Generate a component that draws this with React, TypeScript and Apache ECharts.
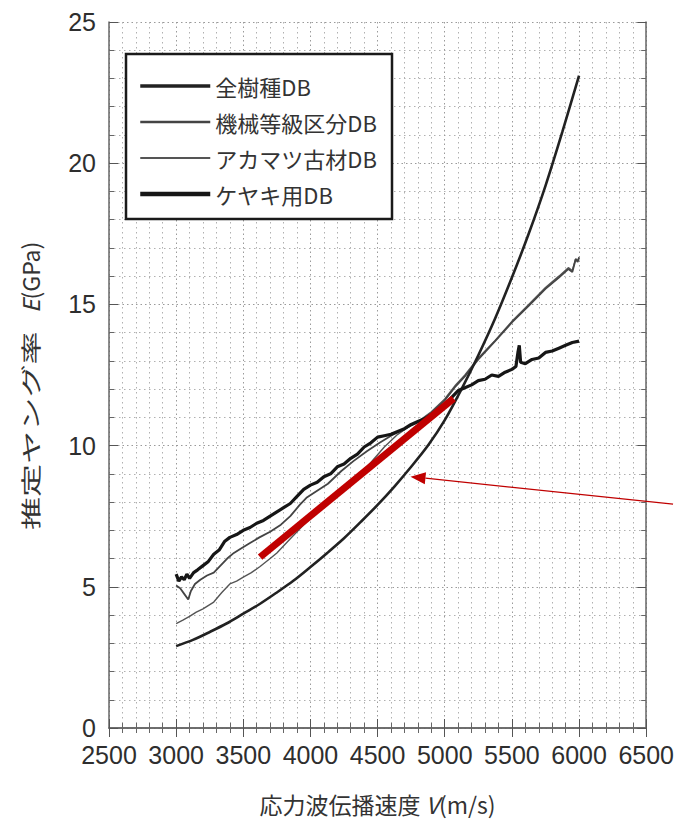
import React, { useEffect, useRef } from 'react';
import * as echarts from 'echarts';

// ---- axis setup ----
const xMin = 2500;
const xMax = 6500;
const xStep = 500;
const yMin = 0;
const yMax = 25;
const yStep = 5;

const legendNames = ['全樹種DB', '機械等級区分DB', 'アカマツ古材DB', 'ケヤキ用DB'];

// ---- 全樹種DB ----
const allSpeciesV = [3000, 3125, 3250, 3375, 3500, 3625, 3750, 3875, 4000, 4125, 4250, 4375, 4500, 4625, 4750, 4875, 5000, 5125, 5250, 5375, 5500, 5625, 5750, 5875, 6000];
const allSpeciesE = [2.9, 3.12, 3.4, 3.7, 4.05, 4.4, 4.8, 5.22, 5.7, 6.2, 6.72, 7.3, 7.9, 8.55, 9.25, 10.0, 10.9, 12.0, 13.2, 14.5, 15.95, 17.5, 19.2, 21.1, 23.1];

// ---- 機械等級区分DB ----
const machineV = [3000, 3030, 3060, 3090, 3110, 3140, 3180, 3230, 3280, 3330, 3380, 3430, 3480, 3550, 3620, 3700, 3780, 3850, 3920, 3970, 4050, 4130, 4230, 4320, 4420, 4515, 4600, 4700, 4809, 4900, 5000, 5081, 5150, 5250, 5375, 5500, 5625, 5750, 5850, 5920, 5950, 5975, 5990, 6000];
const machineE = [5.05, 4.95, 4.75, 4.55, 4.85, 5.1, 5.25, 5.4, 5.5, 5.75, 6.0, 6.2, 6.35, 6.55, 6.75, 6.95, 7.2, 7.5, 7.9, 8.15, 8.4, 8.65, 9.1, 9.45, 9.8, 10.1, 10.35, 10.6, 10.85, 11.15, 11.6, 12.1, 12.45, 13.05, 13.7, 14.36, 14.95, 15.55, 15.95, 16.25, 16.15, 16.6, 16.5, 16.65];

// ---- アカマツ古材DB ----
const akamatsuV = [3000, 3050, 3100, 3150, 3200, 3280, 3340, 3400, 3450, 3500, 3560, 3625, 3700, 3750, 3850, 3950, 4050, 4150, 4250, 4350, 4450, 4550, 4650, 4750, 4809, 4900, 5000, 5081, 5150, 5250, 5375, 5500, 5625, 5750, 5850, 5920, 5950, 5975, 5990, 6000];
const akamatsuE = [3.7, 3.82, 3.95, 4.1, 4.22, 4.46, 4.8, 5.1, 5.2, 5.34, 5.5, 5.72, 6.0, 6.2, 6.7, 7.2, 7.65, 8.05, 8.45, 8.9, 9.4, 9.95, 10.4, 10.72, 10.88, 11.2, 11.65, 12.15, 12.5, 13.1, 13.72, 14.4, 15.0, 15.6, 16.0, 16.3, 16.2, 16.62, 16.55, 16.68];

// ---- ケヤキ用DB ----
const keyakiV = [3000, 3020, 3040, 3060, 3080, 3100, 3130, 3160, 3200, 3240, 3280, 3320, 3360, 3400, 3450, 3500, 3550, 3600, 3650, 3700, 3750, 3800, 3850, 3900, 3950, 4000, 4050, 4100, 4150, 4200, 4250, 4300, 4350, 4400, 4450, 4500, 4550, 4600, 4650, 4700, 4750, 4800, 4850, 4900, 4950, 5000, 5050, 5100, 5150, 5200, 5250, 5300, 5350, 5400, 5450, 5500, 5530, 5545, 5555, 5565, 5600, 5650, 5700, 5750, 5800, 5850, 5900, 5950, 6000];
const keyakiE = [5.45, 5.2, 5.35, 5.25, 5.45, 5.3, 5.5, 5.6, 5.75, 5.9, 6.15, 6.3, 6.6, 6.75, 6.85, 7.0, 7.1, 7.25, 7.35, 7.5, 7.65, 7.8, 7.95, 8.2, 8.45, 8.6, 8.7, 8.9, 9.0, 9.25, 9.35, 9.55, 9.7, 9.95, 10.1, 10.3, 10.35, 10.4, 10.5, 10.6, 10.75, 10.85, 10.95, 11.1, 11.25, 11.45, 11.7, 11.95, 12.05, 12.15, 12.3, 12.35, 12.5, 12.45, 12.6, 12.7, 12.8, 13.3, 13.55, 12.95, 12.9, 13.05, 13.1, 13.3, 13.35, 13.45, 13.55, 13.65, 13.7];

// ---- red annotation (thick line and arrow) ----
const redLineV = [3625, 5066];
const redLineE = [6.05, 11.67];
// arrow: tail (beyond the right edge) -> tip
const arrowV = [6700, 4745];
const arrowE = [7.93, 8.9];

const zip = (xs: number[], ys: number[]) => xs.map((x, i) => [x, ys[i]]);

const tickFont = "'Liberation Sans Narrow', 'Liberation Sans', Arial, sans-serif";
const cjkFont = "'Noto Sans CJK JP', 'Noto Sans', sans-serif";

const gridMajor = { color: '#9a9a9a', type: [1.5, 3], width: 1 };
const gridMinor = { color: '#b0b0b0', type: [1.5, 3.5], width: 1 };
const frameLine = { color: '#666', width: 1.5 };
const hiddenSymbol = { color: 'rgba(0,0,0,0)', borderWidth: 0, opacity: 0 };
const red = '#c00000';

function renderArrow(_params: any, api: any) {
  const p0 = api.coord([api.value(0), api.value(1)]);
  const p1 = api.coord([api.value(2), api.value(3)]);
  const dx = p1[0] - p0[0];
  const dy = p1[1] - p0[1];
  const len = Math.sqrt(dx * dx + dy * dy) || 1;
  const ux = dx / len;
  const uy = dy / len;
  const headLen = 15;
  const headHalf = 6;
  const bx = p1[0] - ux * headLen;
  const by = p1[1] - uy * headLen;
  return {
    type: 'group',
    children: [
      {
        type: 'line',
        shape: { x1: p0[0], y1: p0[1], x2: bx, y2: by },
        style: { stroke: red, lineWidth: 1.3 },
      },
      {
        type: 'polygon',
        shape: {
          points: [
            [p1[0], p1[1]],
            [bx - uy * headHalf, by + ux * headHalf],
            [bx + uy * headHalf, by - ux * headHalf],
          ],
        },
        style: { fill: red },
      },
    ],
  };
}

function buildOption(): any {
  return {
    animation: false,
    backgroundColor: '#ffffff',
    grid: { left: 109, right: 24, top: 22, bottom: 100 },
    xAxis: [
      {
        type: 'value',
        min: xMin,
        max: xMax,
        interval: xStep,
        position: 'bottom',
        name: '{a|応力波伝播速度 }{i|V}{a|(m/s)}',
        nameLocation: 'middle',
        nameGap: 64,
        nameTextStyle: {
          rich: {
            a: { fontFamily: cjkFont, fontSize: 23, color: '#333' },
            i: { fontFamily: cjkFont, fontSize: 23, color: '#333', fontStyle: 'italic' },
          },
        },
        axisLine: { show: true, lineStyle: frameLine },
        axisTick: { show: true, inside: true, length: 9, lineStyle: { color: '#555' } },
        minorTick: { show: true, splitNumber: 5, length: 5, lineStyle: { color: '#666' } },
        axisLabel: {
          fontFamily: tickFont,
          fontSize: 25,
          color: '#2e2e2e',
          margin: 14,
          formatter: (v: number) => String(v),
        },
        splitLine: { show: true, lineStyle: gridMajor },
        minorSplitLine: { show: true, lineStyle: gridMinor },
      },
      {
        type: 'value',
        min: xMin,
        max: xMax,
        interval: xStep,
        position: 'top',
        axisLine: { show: true, lineStyle: frameLine },
        axisTick: { show: true, inside: true, length: 9, lineStyle: { color: '#555' } },
        minorTick: { show: true, splitNumber: 5, length: 5, lineStyle: { color: '#666' } },
        axisLabel: { show: false },
        splitLine: { show: false },
      },
    ],
    yAxis: [
      {
        type: 'value',
        min: yMin,
        max: yMax,
        interval: yStep,
        position: 'left',
        axisLine: { show: true, lineStyle: frameLine },
        axisTick: { show: true, inside: true, length: 9, lineStyle: { color: '#555' } },
        minorTick: { show: true, splitNumber: 5, length: 5, lineStyle: { color: '#666' } },
        axisLabel: { fontFamily: tickFont, fontSize: 25, color: '#2e2e2e', margin: 13 },
        splitLine: { show: true, lineStyle: gridMajor },
        minorSplitLine: { show: true, lineStyle: gridMinor },
      },
      {
        type: 'value',
        min: yMin,
        max: yMax,
        interval: yStep,
        position: 'right',
        axisLine: { show: true, lineStyle: frameLine },
        axisTick: { show: true, inside: true, length: 9, lineStyle: { color: '#555' } },
        minorTick: { show: true, splitNumber: 5, length: 5, lineStyle: { color: '#666' } },
        axisLabel: { show: false },
        splitLine: { show: false },
      },
    ],
    legend: {
      data: [
        { name: legendNames[0], lineStyle: { width: 3.5 }, itemStyle: hiddenSymbol },
        { name: legendNames[1], lineStyle: { width: 2.5 }, itemStyle: hiddenSymbol },
        { name: legendNames[2], lineStyle: { width: 1.8 }, itemStyle: hiddenSymbol },
        { name: legendNames[3], lineStyle: { width: 4.5 }, itemStyle: hiddenSymbol },
      ],
      orient: 'vertical',
      left: 138,
      top: 75,
      padding: 0,
      itemWidth: 70,
      itemHeight: 22,
      itemGap: 14,
      z: 6,
      selectedMode: false,
      itemStyle: hiddenSymbol,
      textStyle: { fontFamily: cjkFont, fontSize: 22, color: '#333', lineHeight: 22 },
    },
    graphic: [
      {
        type: 'rect',
        z: 5,
        shape: { x: 126, y: 54, width: 266, height: 165 },
        style: { fill: '#ffffff', stroke: '#1a1a1a', lineWidth: 2.5 },
      },
      {
        type: 'group',
        x: 30,
        y: 384,
        rotation: Math.PI / 2,
        children: [
          {
            type: 'text',
            x: -146,
            y: 0,
            scaleX: 1.38,
            scaleY: 0.85,
            style: {
              text: '推定ヤング率',
              fontFamily: cjkFont,
              fontSize: 24,
              fill: '#333',
              align: 'left',
              verticalAlign: 'middle',
            },
          },
          {
            type: 'text',
            x: 71,
            y: 0,
            style: {
              text: '{i|E}{n|(GPa)}',
              align: 'left',
              verticalAlign: 'middle',
              rich: {
                i: { fontFamily: cjkFont, fontSize: 23, fill: '#333', fontStyle: 'italic' },
                n: { fontFamily: cjkFont, fontSize: 23, fill: '#333' },
              },
            },
          },
        ],
      },
    ],
    series: [
      {
        name: legendNames[2],
        type: 'line',
        data: zip(akamatsuV, akamatsuE),
        symbol: 'none',
        lineStyle: { color: '#555', width: 1.4 },
        itemStyle: { color: '#555' },
        z: 2,
      },
      {
        name: legendNames[1],
        type: 'line',
        data: zip(machineV, machineE),
        symbol: 'none',
        lineStyle: { color: '#444', width: 1.8 },
        itemStyle: { color: '#444' },
        z: 2,
      },
      {
        name: legendNames[0],
        type: 'line',
        data: zip(allSpeciesV, allSpeciesE),
        symbol: 'none',
        smooth: 0.3,
        lineStyle: { color: '#222', width: 2.6 },
        itemStyle: { color: '#222' },
        z: 3,
      },
      {
        name: legendNames[3],
        type: 'line',
        data: zip(keyakiV, keyakiE),
        symbol: 'none',
        lineStyle: { color: '#161616', width: 3.2 },
        itemStyle: { color: '#161616' },
        z: 3,
      },
      {
        name: 'redLine',
        type: 'line',
        data: zip(redLineV, redLineE),
        symbol: 'none',
        lineStyle: { color: red, width: 7, cap: 'butt' },
        itemStyle: { color: red },
        z: 8,
        silent: true,
      },
      {
        name: 'arrow',
        type: 'custom',
        clip: false,
        silent: true,
        z: 8,
        encode: { x: [0, 2], y: [1, 3] },
        data: [[arrowV[0], arrowE[0], arrowV[1], arrowE[1]]],
        renderItem: renderArrow,
      },
    ],
  };
}

export default function App() {
  const ref = useRef<HTMLDivElement>(null);
  useEffect(() => {
    document.body.style.margin = '0';
    const chart = echarts.init(ref.current as HTMLDivElement, null, { renderer: 'svg' });
    chart.setOption(buildOption());
    return () => {
      chart.dispose();
    };
  }, []);
  return <div ref={ref} style={{ width: 677, height: 828 }} />;
}
